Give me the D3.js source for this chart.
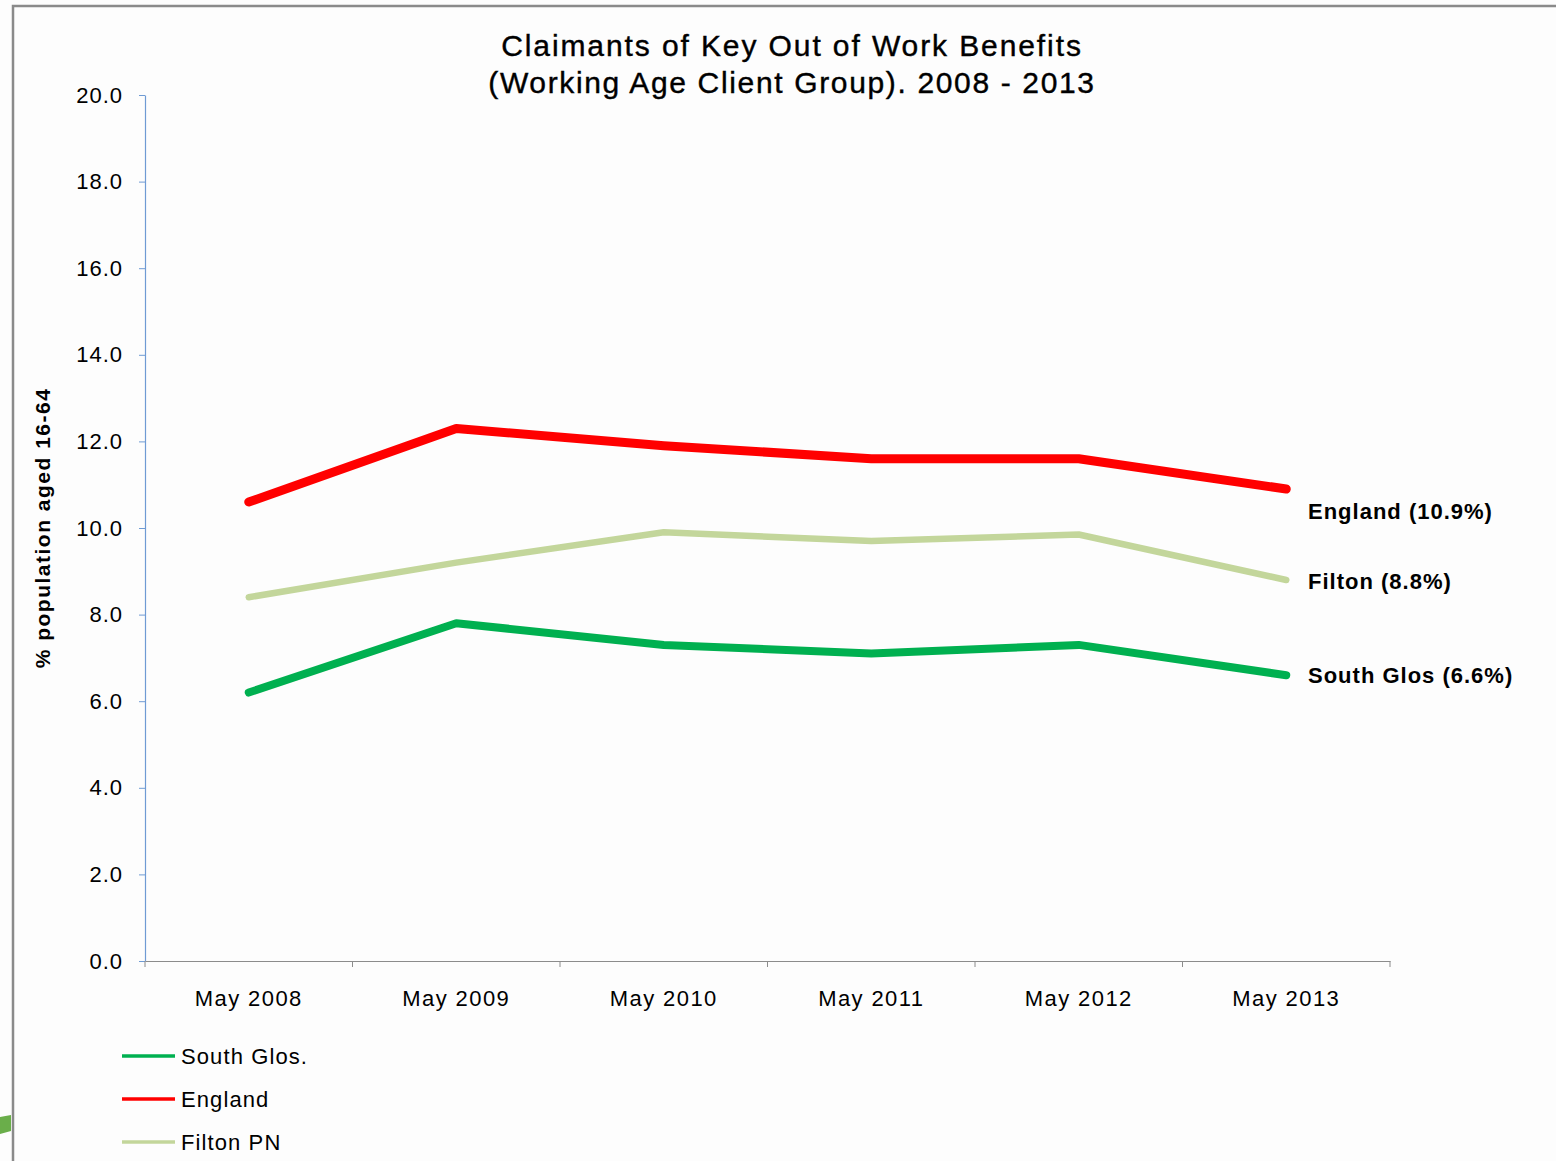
<!DOCTYPE html>
<html><head><meta charset="utf-8">
<script src="https://cdn.jsdelivr.net/npm/d3@7"></script>
<style>body{margin:0;background:#fff}svg{display:block;font-family:"Liberation Sans",Arial,sans-serif}</style>
</head><body><svg id="c" width="1556" height="1161"></svg>
<script>
const categories = ["May 2008","May 2009","May 2010","May 2011","May 2012","May 2013"];
const southGlos = [6.2, 7.8, 7.3, 7.1, 7.3, 6.6];
const england = [10.6, 12.3, 11.9, 11.6, 11.6, 10.9];
const filton = [8.4, 9.2, 9.9, 9.7, 9.85, 8.8];
const yTicks = [0,2,4,6,8,10,12,14,16,18,20];
const seriesNames = ["South Glos.","England","Filton PN"];
const endLabels = ["South Glos (6.6%)","England (10.9%)","Filton (8.8%)"];
const titleLines = ["Claimants of Key Out of Work Benefits","(Working Age Client Group).  2008 - 2013"];
const yTitle = "% population aged 16-64";

const svg = d3.select("#c");
// frame
svg.append("rect").attr("x",0).attr("y",0).attr("width",1556).attr("height",1161).attr("fill","#fdfdfd");
svg.append("path").attr("d","M13,1161V6H1556").attr("fill","none").attr("stroke","#8a8a8a").attr("stroke-width",2.5);
svg.append("path").attr("d","M0,1117 L11,1115 L11,1131 L0,1134Z").attr("fill","#6aae4a");

const x = d3.scaleBand().domain(categories).range([145,1390]);
const y = d3.scaleLinear().domain([0,20]).range([961,95]);

// y axis
const ya = svg.append("g").attr("transform","translate(145,0)").call(d3.axisLeft(y).tickValues(yTicks).tickFormat(d3.format(".1f")).tickSize(6).tickSizeOuter(0));
ya.select(".domain").attr("stroke","#6f9bd4").attr("stroke-width",1.2);
ya.selectAll(".tick line").attr("stroke","#6f9bd4");
ya.selectAll(".tick text").attr("x",-22).attr("font-size",22).attr("letter-spacing","1px").attr("fill","#000").attr("font-family","Liberation Sans, Arial");

// x axis
const xa = svg.append("g").attr("transform","translate(0,961)").call(d3.axisBottom(x).tickSize(0).tickSizeOuter(0));
xa.select(".domain").attr("stroke","#8c8c8c").attr("stroke-width",1.2);
xa.selectAll(".tick text").attr("font-size",22).attr("letter-spacing","1.4px").attr("fill","#000").attr("dy",0).attr("y",45).attr("font-family","Liberation Sans, Arial");
const bounds = categories.map(c=>x(c)).concat([x.range()[1]]);
svg.append("g").selectAll("line").data(bounds).join("line")
  .attr("x1",d=>d).attr("x2",d=>d).attr("y1",961).attr("y2",967).attr("stroke","#8c8c8c");

// title
svg.append("text").attr("x",792).attr("y",56).attr("text-anchor","middle").attr("font-size",30).attr("letter-spacing","1.9px").attr("stroke","#000").attr("stroke-width",0.4).text(titleLines[0]);
svg.append("text").attr("x",792).attr("y",93).attr("text-anchor","middle").attr("font-size",30).attr("letter-spacing","1.65px").attr("stroke","#000").attr("stroke-width",0.4).text(titleLines[1]);

// y title
svg.append("text").attr("transform","translate(50,528) rotate(-90)").attr("text-anchor","middle").attr("font-size",21).attr("letter-spacing","1.5px").attr("font-weight","bold").text(yTitle);

const series = [
  {name:seriesNames[0], vals:southGlos, color:"#00b050", w:8, label:endLabels[0]},
  {name:seriesNames[1], vals:england, color:"#ff0000", w:9, label:endLabels[1]},
  {name:seriesNames[2], vals:filton, color:"#c3d69b", w:6.5, label:endLabels[2]}
];
const line = d3.line().x((d,i)=>x(categories[i])+x.bandwidth()/2).y(d=>y(d));
const drawOrder = [series[2], series[0], series[1]];
svg.append("g").selectAll("path").data(drawOrder).join("path")
  .attr("d",d=>line(d.vals)).attr("fill","none").attr("stroke",d=>d.color)
  .attr("stroke-width",d=>d.w).attr("stroke-linecap","round").attr("stroke-linejoin","round");

// end labels
const labelOffsets = {"England (10.9%)":30, "Filton (8.8%)":9, "South Glos (6.6%)":8};
series.forEach(s=>{
  const last = s.vals[s.vals.length-1];
  svg.append("text").attr("x",1308).attr("y",y(last)+labelOffsets[s.label]).attr("font-size",22).attr("letter-spacing","1px").attr("font-weight","bold").text(s.label);
});

// legend
const lg = svg.append("g");
series.forEach((s,i)=>{
  const ly = 1056 + i*43;
  lg.append("line").attr("x1",122).attr("x2",175).attr("y1",ly).attr("y2",ly).attr("stroke",s.color).attr("stroke-width",3.5);
  lg.append("text").attr("x",181).attr("y",ly+8).attr("font-size",22).attr("letter-spacing","1.1px").text(s.name);
});
</script></body></html>
